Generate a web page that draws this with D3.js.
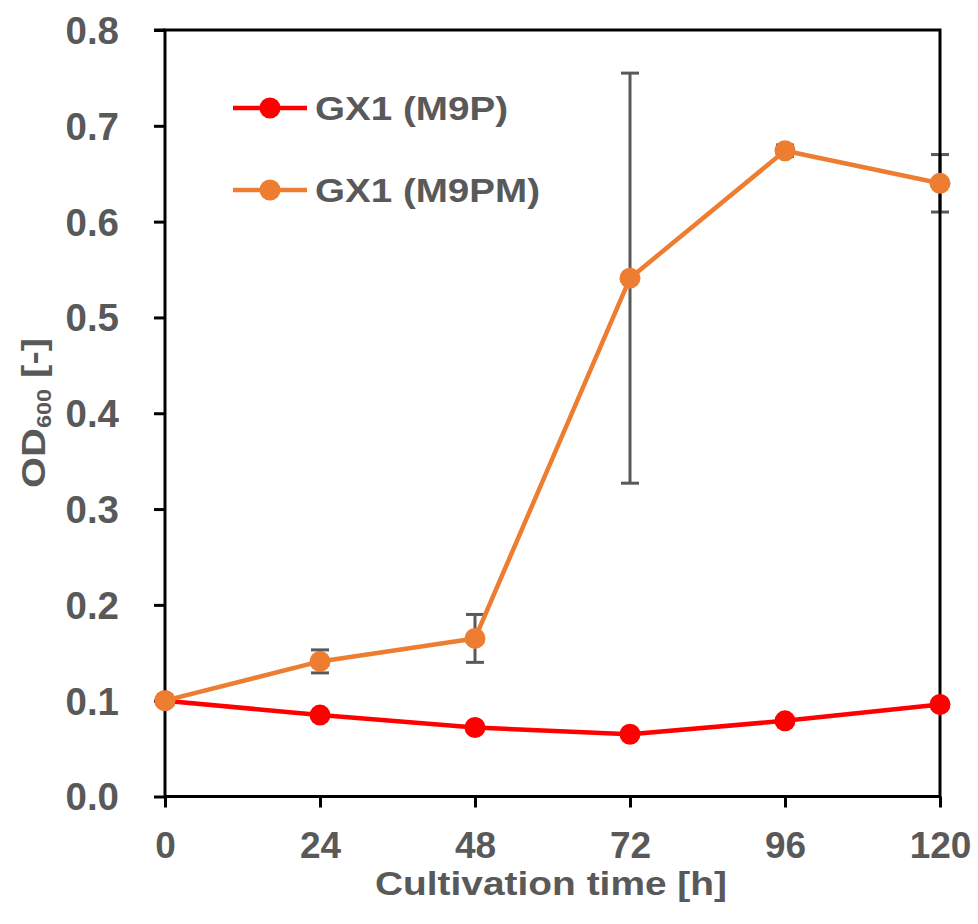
<!DOCTYPE html>
<html><head><meta charset="utf-8">
<script src="https://cdn.jsdelivr.net/npm/d3@7"></script>
<style>body{margin:0;background:#fff}svg{display:block}</style>
</head><body>
<script>
const times = [0, 24, 48, 72, 96, 120];
const m9p = [0.100, 0.085, 0.072, 0.065, 0.079, 0.096];
const m9pm = [0.100, 0.141, 0.165, 0.541, 0.674, 0.640];
const m9pmErr = [0.000, 0.012, 0.025, 0.214, 0.006, 0.030];
const yTicks = [0, 0.1, 0.2, 0.3, 0.4, 0.5, 0.6, 0.7, 0.8];
const seriesNames = ["GX1 (M9P)", "GX1 (M9PM)"];
const seriesColors = ["#FF0000", "#ED7D31"];

const W = 978, H = 924;
const svg = d3.select("body").append("svg").attr("width", W).attr("height", H);
const x = d3.scaleLinear().domain([0, 120]).range([165, 940]);
const y = d3.scaleLinear().domain([0, 0.8]).range([796.5, 30]);
const gray = "#595959";
const font = "'Liberation Sans', Arial, sans-serif";

// error bars (under markers)
const eg = svg.append("g");
times.forEach((t, i) => {
  const e = m9pmErr[i];
  if (e <= 0) return;
  const cx = x(t), y1 = y(m9pm[i] + e), y2 = y(m9pm[i] - e);
  eg.append("line").attr("x1", cx).attr("x2", cx).attr("y1", y1).attr("y2", y2)
    .attr("stroke", gray).attr("stroke-width", 3);
  [y1, y2].forEach(yy => eg.append("line").attr("x1", cx - 9).attr("x2", cx + 9)
    .attr("y1", yy).attr("y2", yy).attr("stroke", gray).attr("stroke-width", 3));
});

// axes frame
const axisG = svg.append("g");
const yAxis = d3.axisLeft(y).tickValues(yTicks).tickSize(11).tickFormat(d3.format(".1f")).tickPadding(35);
const ya = axisG.append("g").attr("transform", `translate(${x(0)},0)`).call(yAxis);
const xAxis = d3.axisBottom(x).tickValues(times).tickSize(11).tickPadding(25);
const xa = axisG.append("g").attr("transform", `translate(0,${y(0)})`).call(xAxis);
[ya, xa].forEach(a => {
  a.select(".domain").remove();
  a.selectAll(".tick line").attr("stroke", "#000").attr("stroke-width", 3);
  a.selectAll(".tick text").attr("fill", gray).attr("font-family", font)
    .attr("font-weight", "bold").attr("font-size", 37);
});
ya.selectAll(".tick text").attr("x", -46).attr("dy", "0.35em").attr("font-size", 38.5);
xa.selectAll(".tick text").attr("y", 35).attr("dy", "0.71em");
// frame lines
axisG.append("rect").attr("x", x(0)).attr("y", y(0.8)).attr("width", x(120) - x(0))
  .attr("height", y(0) - y(0.8)).attr("fill", "none").attr("stroke", "#000").attr("stroke-width", 3);
axisG.append("line").attr("x1", x(0) - 11).attr("x2", x(0)).attr("y1", y(0.8)).attr("y2", y(0.8))
  .attr("stroke", "#000").attr("stroke-width", 3);

// series
const line = d3.line().x((d, i) => x(times[i])).y(d => y(d));
[m9p, m9pm].forEach((vals, k) => {
  svg.append("path").datum(vals).attr("d", line).attr("fill", "none")
    .attr("stroke", seriesColors[k]).attr("stroke-width", 4.5).attr("stroke-linejoin", "round");
  svg.selectAll(null).data(vals).enter().append("circle")
    .attr("cx", (d, i) => x(times[i])).attr("cy", d => y(d)).attr("r", 10.5)
    .attr("fill", seriesColors[k]);
});

// legend
const legY = [108, 190];
const legW = [193, 225];
seriesNames.forEach((name, k) => {
  const g = svg.append("g");
  g.append("line").attr("x1", 233).attr("x2", 307).attr("y1", legY[k]).attr("y2", legY[k])
    .attr("stroke", seriesColors[k]).attr("stroke-width", 4.5);
  g.append("circle").attr("cx", 270).attr("cy", legY[k]).attr("r", 10.5).attr("fill", seriesColors[k]);
  g.append("text").attr("x", 315).attr("y", legY[k] + 12).text(name)
    .attr("font-family", font).attr("font-weight", "bold").attr("font-size", 33)
    .attr("fill", gray).attr("textLength", legW[k]).attr("lengthAdjust", "spacingAndGlyphs");
});

// x title
svg.append("text").attr("x", 551).attr("y", 895).attr("text-anchor", "middle")
  .attr("font-family", font).attr("font-weight", "bold").attr("font-size", 33).attr("fill", gray)
  .attr("textLength", 352).attr("lengthAdjust", "spacingAndGlyphs")
  .text("Cultivation  time [h]");

// y title
const yt = svg.append("text").attr("transform", "translate(45,413) rotate(-90)")
  .attr("text-anchor", "middle").attr("font-family", font).attr("font-weight", "bold")
  .attr("font-size", 34).attr("fill", gray).attr("textLength", 150).attr("lengthAdjust", "spacingAndGlyphs");
yt.append("tspan").text("OD");
yt.append("tspan").text("600").attr("font-size", 20).attr("dy", 6);
yt.append("tspan").text(" [-]").attr("dy", -6);
</script>
</body></html>
